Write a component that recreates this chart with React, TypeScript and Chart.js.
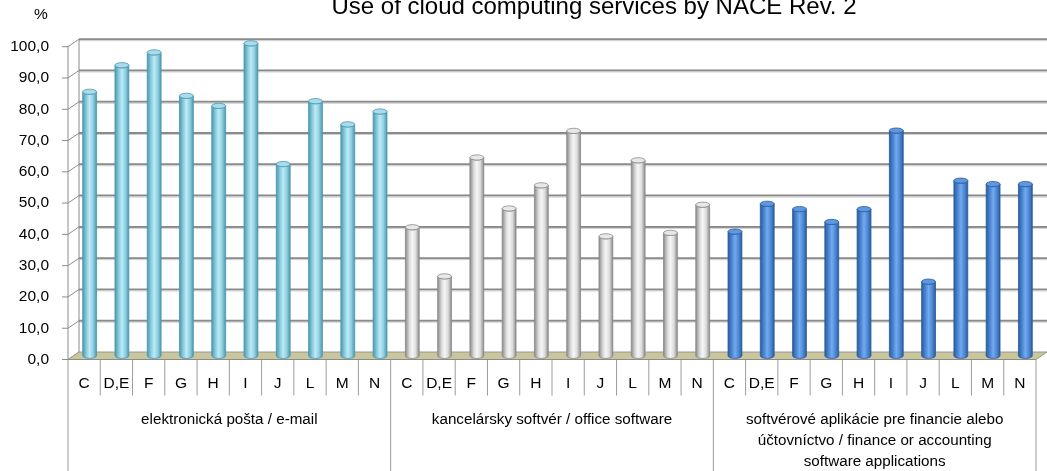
import React, { useEffect, useRef } from 'react';
import { Chart, registerables } from 'chart.js';

Chart.register(...registerables);

const TITLE = 'Use of cloud computing services by NACE Rev. 2';
const UNIT_LABEL = '%';
const NACE_CODES = ['C', 'D,E', 'F', 'G', 'H', 'I', 'J', 'L', 'M', 'N'];
const GROUP_LABELS: string[][] = [
  ['elektronická pošta / e-mail'],
  ['kancelársky softvér / office software'],
  ['softvérové aplikácie pre financie alebo', 'účtovníctvo / finance or accounting', 'software applications'],
];
const EMAIL = [84.4, 92.9, 97.0, 83.1, 79.9, 99.9, 61.3, 81.4, 74.0, 78.1];
const OFFICE = [41.1, 25.4, 63.4, 47.1, 54.5, 71.9, 38.2, 62.5, 39.3, 48.3];
const FINANCE = [39.7, 48.6, 46.9, 42.8, 46.9, 72.0, 23.7, 56.0, 54.9, 54.9];
const Y_MIN = 0;
const Y_MAX = 100;
const Y_STEP = 10;

const PALETTES = [
  { edge: '#4a98b0', light: '#c0e9f3', mid: '#8fd0e2', cap: '#a8dcea' },
  { edge: '#8a8a8a', light: '#f6f6f6', mid: '#dcdcdc', cap: '#e8e8e8' },
  { edge: '#2b5c9c', light: '#74aaee', mid: '#4e8ad8', cap: '#5f98e0' },
];

const FONT = "'Liberation Sans', Arial, sans-serif";
const BACK_DX = 11;
const BACK_DY = -7.5;
const MID_DX = 5.5;
const MID_DY = -3.7;

const fmt = (v: number) => v.toFixed(1).replace('.', ',');

function drawCylinder(ctx: CanvasRenderingContext2D, cx: number, top: number, base: number, w: number, pal: any) {
  const r = w / 2;
  const ry = 2.6;
  const g = ctx.createLinearGradient(cx - r, 0, cx + r, 0);
  g.addColorStop(0, pal.edge);
  g.addColorStop(0.3, pal.mid);
  g.addColorStop(0.5, pal.light);
  g.addColorStop(0.75, pal.mid);
  g.addColorStop(1, pal.edge);
  ctx.save();
  ctx.beginPath();
  ctx.moveTo(cx - r, top);
  ctx.lineTo(cx - r, base);
  ctx.ellipse(cx, base, r, ry, 0, Math.PI, 0, true);
  ctx.lineTo(cx + r, top);
  ctx.ellipse(cx, top, r, ry, 0, 0, Math.PI, false);
  ctx.closePath();
  ctx.fillStyle = g;
  ctx.fill();
  ctx.lineWidth = 0.8;
  ctx.strokeStyle = pal.edge;
  ctx.stroke();
  ctx.beginPath();
  ctx.ellipse(cx, top, r, ry, 0, 0, Math.PI * 2);
  ctx.fillStyle = pal.cap;
  ctx.fill();
  ctx.stroke();
  ctx.restore();
}

const decorPlugin = {
  id: 'decor3d',
  beforeDatasetsDraw(chart: any) {
    const ctx: CanvasRenderingContext2D = chart.ctx;
    const { left, right } = chart.chartArea;
    const y = chart.scales.y;
    const y0 = y.getPixelForValue(Y_MIN);
    ctx.save();
    for (let v = Y_MIN; v <= Y_MAX; v += Y_STEP) {
      const yf = y.getPixelForValue(v);
      const yb = yf + BACK_DY;
      ctx.lineWidth = 1;
      ctx.strokeStyle = '#8c8c8c';
      ctx.beginPath();
      ctx.moveTo(left - 6, yf);
      ctx.lineTo(left, yf);
      ctx.lineTo(left + BACK_DX, yb);
      ctx.stroke();
      if (v !== Y_MIN) {
        ctx.lineWidth = 2;
        ctx.strokeStyle = '#8a8a8a';
        ctx.beginPath();
        ctx.moveTo(left + BACK_DX, yb);
        ctx.lineTo(right + BACK_DX, yb);
        ctx.stroke();
        ctx.lineWidth = 1;
        ctx.strokeStyle = '#d0d0d0';
        ctx.beginPath();
        ctx.moveTo(left + BACK_DX, yb + 1.5);
        ctx.lineTo(right + BACK_DX, yb + 1.5);
        ctx.stroke();
      }
    }
    ctx.strokeStyle = '#8c8c8c';
    ctx.lineWidth = 1;
    ctx.beginPath();
    ctx.moveTo(left + BACK_DX, y.getPixelForValue(Y_MAX) + BACK_DY);
    ctx.lineTo(left + BACK_DX, y0 + BACK_DY);
    ctx.stroke();
    ctx.beginPath();
    ctx.moveTo(left, y.getPixelForValue(Y_MAX));
    ctx.lineTo(left, y0);
    ctx.stroke();
    ctx.beginPath();
    ctx.moveTo(left, y0);
    ctx.lineTo(right, y0);
    ctx.lineTo(right + BACK_DX, y0 + BACK_DY);
    ctx.lineTo(left + BACK_DX, y0 + BACK_DY);
    ctx.closePath();
    ctx.fillStyle = '#c9c59c';
    ctx.fill();
    ctx.strokeStyle = '#9a9a8a';
    ctx.stroke();
    ctx.restore();
  },
  afterDatasetsDraw(chart: any) {
    const ctx: CanvasRenderingContext2D = chart.ctx;
    const meta = chart.getDatasetMeta(0);
    meta.data.forEach((bar: any, i: number) => {
      const pal = PALETTES[Math.floor(i / NACE_CODES.length)];
      drawCylinder(ctx, bar.x + MID_DX, bar.y + MID_DY, bar.base + MID_DY, bar.width, pal);
    });
  },
  afterDraw(chart: any) {
    const ctx: CanvasRenderingContext2D = chart.ctx;
    const { left, right } = chart.chartArea;
    const x = chart.scales.x;
    const y = chart.scales.y;
    const y0 = y.getPixelForValue(Y_MIN);
    const n = chart.data.labels.length;
    const cw = (right - left) / n;
    const H = chart.height;
    ctx.save();
    ctx.fillStyle = '#000';
    ctx.textAlign = 'center';
    ctx.textBaseline = 'alphabetic';
    ctx.font = `24px ${FONT}`;
    ctx.fillText(TITLE, 594, 13.5);
    ctx.font = `15.5px ${FONT}`;
    ctx.fillText(UNIT_LABEL, 41, 19);
    ctx.strokeStyle = '#9c9c9c';
    ctx.lineWidth = 1;
    for (let i = 0; i <= n; i++) {
      const xx = left + i * cw;
      const isGroup = i % NACE_CODES.length === 0;
      ctx.beginPath();
      ctx.moveTo(xx, y0);
      ctx.lineTo(xx, isGroup ? H : y0 + 36);
      ctx.stroke();
    }
    ctx.strokeStyle = '#8c8c8c';
    ctx.beginPath();
    ctx.moveTo(left, y0);
    ctx.lineTo(right, y0);
    ctx.stroke();
    ctx.textBaseline = 'middle';
    ctx.font = `15.5px ${FONT}`;
    for (let i = 0; i < n; i++) {
      ctx.fillText(NACE_CODES[i % NACE_CODES.length], x.getPixelForValue(i), y0 + 24);
    }
    ctx.font = `15.2px ${FONT}`;
    GROUP_LABELS.forEach((lines, gi) => {
      const a = x.getPixelForValue(gi * NACE_CODES.length);
      const b = x.getPixelForValue(gi * NACE_CODES.length + NACE_CODES.length - 1);
      const cx = (a + b) / 2;
      lines.forEach((ln, li) => {
        ctx.fillText(ln, cx, y0 + 60.5 + li * 21);
      });
    });
    ctx.restore();
  },
};

export default function App() {
  const ref = useRef<HTMLCanvasElement>(null);
  useEffect(() => {
    if (!ref.current) return;
    const labels: string[] = [];
    GROUP_LABELS.forEach(() => NACE_CODES.forEach((c) => labels.push(c)));
    const values = [...EMAIL, ...OFFICE, ...FINANCE];
    const chart = new Chart(ref.current, {
      type: 'bar',
      data: {
        labels,
        datasets: [
          {
            data: values,
            backgroundColor: 'rgba(0,0,0,0)',
            borderWidth: 0,
            categoryPercentage: 1,
            barPercentage: 0.43,
          },
        ],
      },
      options: {
        responsive: false,
        animation: false,
        layout: { padding: { left: 0, right: 11, top: 46.7, bottom: 111.5 } },
        plugins: { legend: { display: false }, tooltip: { enabled: false }, title: { display: false } },
        scales: {
          x: { display: false, offset: true },
          y: {
            min: Y_MIN,
            max: Y_MAX,
            ticks: {
              stepSize: Y_STEP,
              padding: 19,
              color: '#000',
              font: { family: FONT, size: 15.5 },
              callback: (v: any) => fmt(Number(v)),
            },
            grid: { display: false, drawTicks: false },
            border: { display: false },
            afterFit: (s: any) => {
              s.width = 68;
            },
          },
        },
      },
      plugins: [decorPlugin],
    });
    return () => chart.destroy();
  }, []);
  return (
    <div style={{ position: 'fixed', left: 0, top: 0, width: 1047, height: 471, background: '#fff' }}>
      <canvas ref={ref} width={1047} height={471} />
    </div>
  );
}
